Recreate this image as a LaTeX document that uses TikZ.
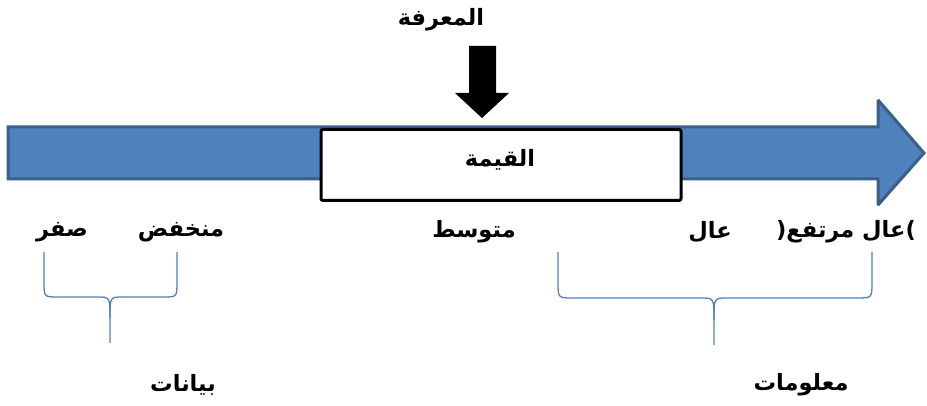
\documentclass[tikz,border=0pt]{standalone}
\usepackage{fontspec}
\TeXXeTstate=1
\newfontfamily\arabicfont[Script=Arabic]{DejaVu Sans}
\definecolor{arrowfill}{HTML}{4F81BD}
\definecolor{arrowline}{HTML}{3A5F8B}
\definecolor{bracecol}{HTML}{4F81BD}
\tikzset{
  lbl/.style={font=\arabicfont\bfseries\fontsize{22.5}{26}\selectfont, inner sep=0pt, anchor=center},
  bracepath/.style={draw=bracecol, line width=1.3pt},
}
\begin{document}
\begin{tikzpicture}[x=1pt,y=-1pt]
\useasboundingbox (0,0) rectangle (927,406);
% big arrow
\draw[fill=arrowfill, draw=arrowline, line width=3pt, line join=miter, miter limit=2]
  (8,127) -- (878,127) -- (878,100) -- (924,153) -- (878,205) -- (878,179) -- (8,179) -- cycle;
% value box
\node[draw=black, fill=white, line width=3pt, rounded corners=2pt, minimum width=360pt, minimum height=71pt, inner sep=0pt] (box) at (501,165) {};
\node[lbl] (value) at (500,160) {\beginR القيمة\endR};
% knowledge label and down arrow
\node[lbl] (know) at (441,20) {\beginR المعرفة\endR};
\fill[black] (469,46) -- (496,46) -- (496,93) -- (509,93) -- (482,118) -- (455,93) -- (469,93) -- cycle;
% scale labels
\node[lbl] (zero) at (62,232) {\beginR صفر\endR};
\node[lbl] (low) at (181,232) {\beginR منخفض\endR};
\node[lbl] (mid) at (474,232) {\beginR متوسط\endR};
\node[lbl] (high) at (710,232) {\beginR عال\endR};
\node[lbl] (vhigh) at (846,232) {\hbox{(}\beginR عال مرتفع\endR\hbox{)}};
% braces
\draw[bracepath] (44,252) -- (44,282) .. controls (44,297) .. (58,297) -- (97,297) .. controls (110,297) .. (110,318) -- (110,343);
\draw[bracepath] (177,252) -- (177,282) .. controls (177,297) .. (163,297) -- (123,297) .. controls (110,297) .. (110,318);
\draw[bracepath] (558,252) -- (558,282) .. controls (558,298) .. (573,298) -- (701,298) .. controls (714,298) .. (714,320) -- (714,345);
\draw[bracepath] (872,252) -- (872,282) .. controls (872,298) .. (857,298) -- (727,298) .. controls (714,298) .. (714,320);
% group labels
\node[lbl] (data) at (183,385) {\beginR بيانات\endR};
\node[lbl] (info) at (801,385) {\beginR معلومات\endR};
\end{tikzpicture}
\end{document}
